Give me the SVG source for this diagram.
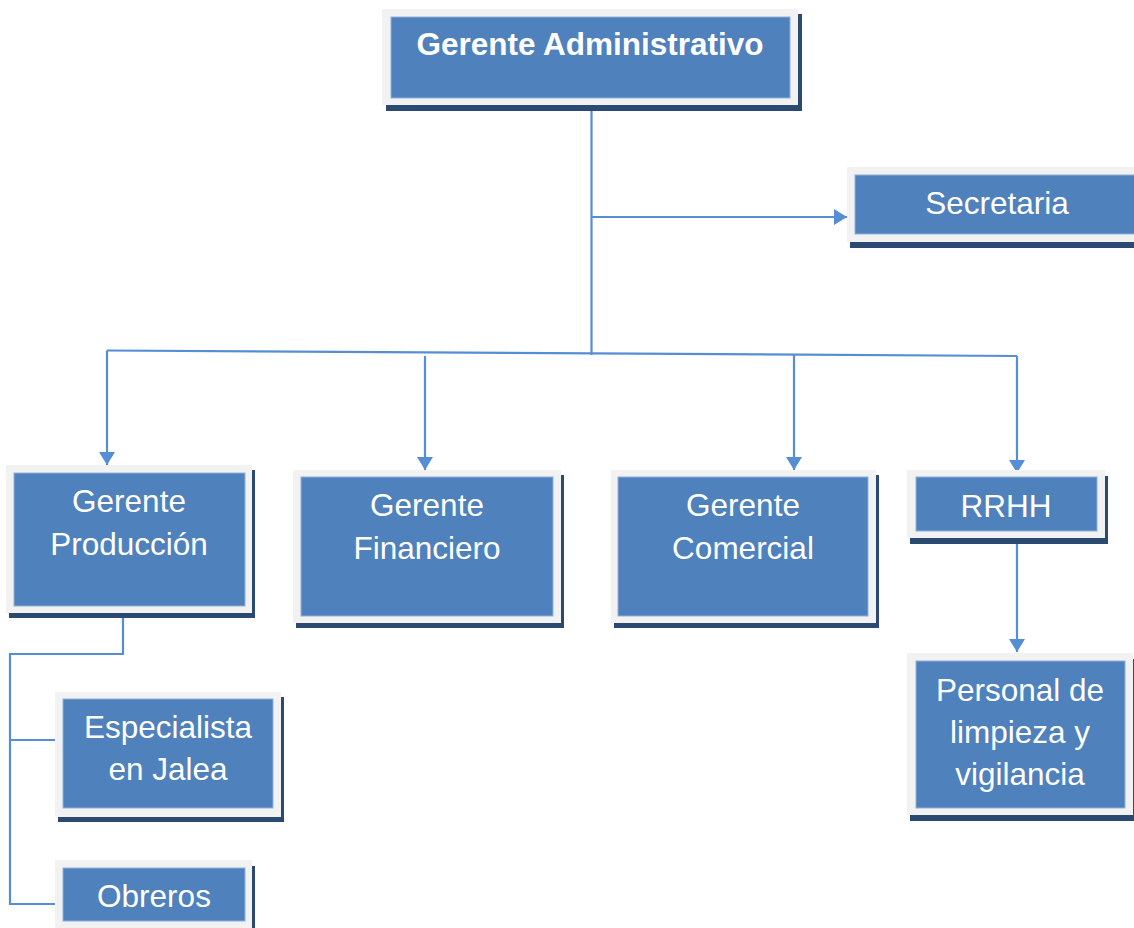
<svg xmlns="http://www.w3.org/2000/svg" width="1134" height="928" viewBox="0 0 1134 928">
  <style>
    .shadow { fill: #2a4a72; }
    .frame { fill: #f2f2f2; }
    .card { fill: #4f81bd; stroke: #8fb0dc; stroke-width: 1; }
    .label { font-family: "Liberation Sans", Arial, sans-serif; font-size: 31.5px; fill: #ffffff; text-anchor: middle; }
    .bold { font-weight: bold; }
    .wire { fill: none; stroke: #558ed5; stroke-width: 2.2; }
  </style>
  <defs>
    <marker id="arrow" markerUnits="userSpaceOnUse" markerWidth="16" markerHeight="18" refX="13" refY="8" orient="auto">
      <path d="M0,0 L13,8 L0,16 z" fill="#558ed5"/>
    </marker>
  </defs>

  <rect width="1134" height="928" fill="#ffffff"/>

  <!-- connectors -->
  <g id="connectors">
    <path class="wire" d="M591.5 103 V355"/>
    <path class="wire" d="M591.5 217 H847" marker-end="url(#arrow)"/>
    <path class="wire" d="M107 350.5 L1017 356"/>
    <path class="wire" d="M107 350.5 V465" marker-end="url(#arrow)"/>
    <path class="wire" d="M425 356 V470" marker-end="url(#arrow)"/>
    <path class="wire" d="M794 355 V470" marker-end="url(#arrow)"/>
    <path class="wire" d="M1017 356 V473" marker-end="url(#arrow)"/>
    <path class="wire" d="M1017 540 V652" marker-end="url(#arrow)"/>
    <path class="wire" d="M123 610 V654 H10 V904 H55"/>
    <path class="wire" d="M10 740 H55"/>
  </g>

  <!-- nodes -->
  <g id="gerente-administrativo">
    <rect class="shadow" x="386" y="14" width="416" height="97"/>
    <rect class="frame" x="382" y="9" width="416" height="96"/>
    <rect class="card" x="391" y="17" width="399" height="81"/>
    <text class="label bold" x="590" y="55">Gerente Administrativo</text>
  </g>

  <g id="secretaria">
    <rect class="shadow" x="850" y="172" width="290" height="76"/>
    <rect class="frame" x="847" y="167" width="290" height="75"/>
    <rect class="card" x="855" y="175" width="290" height="59"/>
    <text class="label" x="997" y="214">Secretaria</text>
  </g>

  <g id="gerente-produccion">
    <rect class="shadow" x="9" y="470" width="246" height="148"/>
    <rect class="frame" x="6" y="465" width="246" height="148"/>
    <rect class="card" x="14" y="473" width="231" height="133"/>
    <text class="label" x="129" y="512">Gerente</text>
    <text class="label" x="129" y="555">Producción</text>
  </g>

  <g id="gerente-financiero">
    <rect class="shadow" x="296" y="475" width="268" height="153"/>
    <rect class="frame" x="293" y="470" width="268" height="153"/>
    <rect class="card" x="301" y="477" width="252" height="139"/>
    <text class="label" x="427" y="516">Gerente</text>
    <text class="label" x="427" y="559">Financiero</text>
  </g>

  <g id="gerente-comercial">
    <rect class="shadow" x="614" y="475" width="265" height="153"/>
    <rect class="frame" x="611" y="470" width="265" height="153"/>
    <rect class="card" x="618" y="477" width="250" height="139"/>
    <text class="label" x="743" y="516">Gerente</text>
    <text class="label" x="743" y="559">Comercial</text>
  </g>

  <g id="rrhh">
    <rect class="shadow" x="910" y="476" width="198" height="68"/>
    <rect class="frame" x="907" y="470" width="198" height="68"/>
    <rect class="card" x="916" y="477" width="181" height="54"/>
    <text class="label" x="1006" y="517">RRHH</text>
  </g>

  <g id="personal-limpieza">
    <rect class="shadow" x="910" y="659" width="226" height="162"/>
    <rect class="frame" x="907" y="653" width="226" height="162"/>
    <rect class="card" x="916" y="661" width="209" height="147"/>
    <text class="label" x="1020" y="701">Personal de</text>
    <text class="label" x="1020" y="743">limpieza y</text>
    <text class="label" x="1020" y="785">vigilancia</text>
  </g>

  <g id="especialista-jalea">
    <rect class="shadow" x="58" y="697" width="226" height="125"/>
    <rect class="frame" x="55" y="692" width="226" height="125"/>
    <rect class="card" x="63" y="699" width="210" height="109"/>
    <text class="label" x="168" y="738">Especialista</text>
    <text class="label" x="168" y="780">en Jalea</text>
  </g>

  <g id="obreros">
    <rect class="shadow" x="58" y="866" width="197" height="70"/>
    <rect class="frame" x="55" y="860" width="197" height="70"/>
    <rect class="card" x="63" y="868" width="182" height="53"/>
    <text class="label" x="154" y="907">Obreros</text>
  </g>
</svg>
